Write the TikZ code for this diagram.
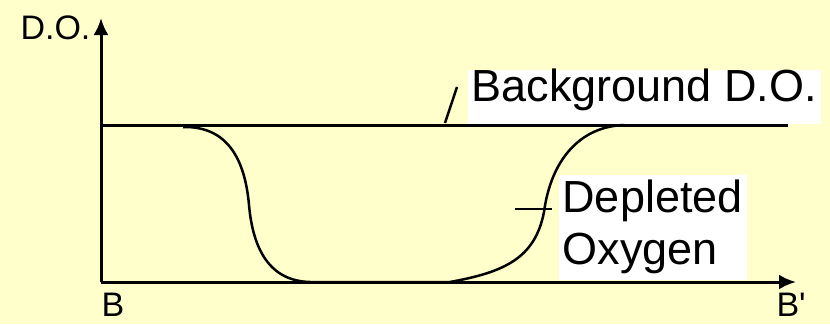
\documentclass[tikz,border=0pt]{standalone}
\usepackage{fontspec}
\setmainfont{Liberation Sans}
\usetikzlibrary{arrows.meta}
\definecolor{paper}{HTML}{FFFFCC}

\begin{document}
\begin{tikzpicture}[x=1pt,y=-1pt,line width=3pt]
\tikzstyle{axis} = [line width=3pt,-{Latex[length=17pt,width=15pt]}]
\tikzstyle{curve} = [line width=2.5pt,line join=round]
\tikzstyle{lbl} = [inner sep=0pt,font=\fontsize{34}{38}\selectfont]
\tikzstyle{tag} = [fill=white,inner xsep=4pt,inner ysep=0pt,font=\fontsize{45}{52}\selectfont]
\fill[paper] (0,0) rectangle (830,324);
\useasboundingbox (0,0) rectangle (830,324);
\coordinate (O) at (101,282);
\coordinate (ytop) at (101,18);
\coordinate (xend) at (796,282);
\coordinate (bgl) at (101,125);
\coordinate (bgr) at (788,125);
\node[tag,text height=32pt,text depth=22pt,anchor=north west] (bgdo) at (466,68) {Background D.O.};
\node[tag,align=left,minimum height=105pt,anchor=north west] (dep) at (557,173) {Depleted\\Oxygen};
\node[lbl,anchor=base west] (do) at (19,39) {D.O.};
\node[lbl,anchor=base west] (b) at (100,316) {B};
\node[lbl,anchor=base west] (bp) at (775,316) {B\textquotesingle};
\draw[axis] (O) -- (ytop);
\draw[axis] (O) -- (xend);
\draw (bgl) -- (bgr);
% the dip
\coordinate (c0) at (183,127);
\coordinate (c1) at (249,205);
\coordinate (c2) at (310,282);
\coordinate (c3) at (450,282);
\coordinate (c4) at (544,212);
\coordinate (c5) at (625,125);
\draw[curve] (c0) .. controls (228,126) and (245,160) .. (c1)
  .. controls (253,250) and (270,281) .. (c2) -- (c3)
  .. controls (505,272) and (535,258) .. (c4)
  .. controls (551,160) and (580,126) .. (c5);
% pointers
\coordinate (p1) at (445,123);
\coordinate (p2) at (457,87);
\draw[curve] (p1) -- (p2);
\coordinate (t1) at (515,209);
\coordinate (t2) at (552,209);
\draw[curve] (t1) -- (t2);
\end{tikzpicture}
\end{document}
